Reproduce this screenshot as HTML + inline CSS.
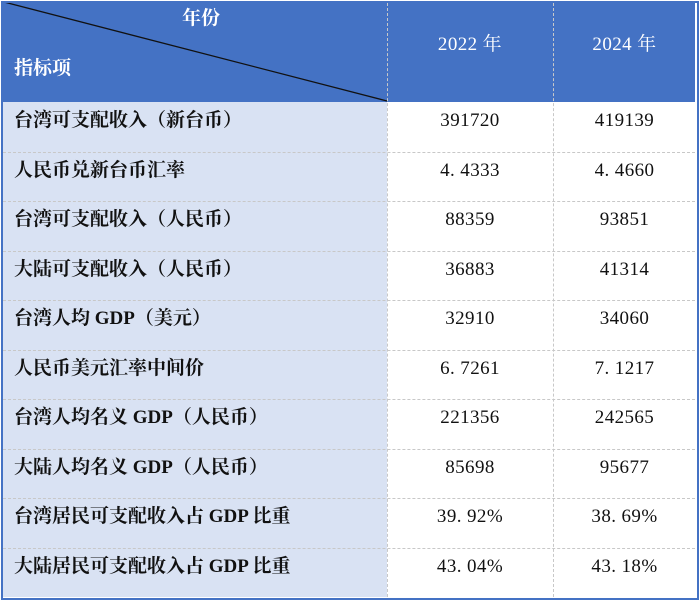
<!DOCTYPE html>
<html><head><meta charset="utf-8"><style>
body{margin:0;width:700px;height:600px;background:#fff;position:relative;overflow:hidden;font-family:"Liberation Serif","Noto Serif CJK SC",serif}
.frame{position:absolute;left:1px;top:1px;width:694px;height:595px;border:2px solid #4472c4;box-sizing:content-box}
.hdr{position:absolute;left:3px;top:3px;width:692px;height:99px;background:#4472c4}
.lab{position:absolute;left:3px;top:102px;width:384px;height:495px;background:#d9e2f3}
.hl{position:absolute;left:3px;width:692px;height:0;border-top:1px dashed #c8c8c8}
.vl{position:absolute;top:3px;height:594px;width:0;border-left:1px dashed #c8c8c8}
.t{position:absolute;font-family:"Liberation Serif","Noto Serif CJK SC",serif;font-size:19px;font-weight:bold;color:#111;white-space:nowrap;line-height:22px}
.n{position:absolute;font-family:"Liberation Serif","Noto Serif CJK SC",serif;font-size:19px;letter-spacing:0.4px;color:#111;line-height:22px;text-align:center;white-space:nowrap}
.w{color:#fff}
</style></head><body>
<div class="hdr"></div><div class="lab"></div>
<svg style="position:absolute;left:0;top:0" width="700" height="110"><line x1="4" y1="2" x2="387" y2="101" stroke="#111" stroke-width="1.3"/></svg>
<div class="vl" style="left:387px"></div><div class="vl" style="left:553px"></div>
<div class="t w" style="left:182px;top:8px">年份</div>
<div class="t w" style="left:14px;top:58px">指标项</div>
<div class="n w" style="left:387px;width:166px;top:34px">2022 年</div>
<div class="n w" style="left:553px;width:143px;top:34px">2024 年</div>
<div class="frame"></div>
<div id="rows"></div>
<script>
var d=[["台湾可支配收入（新台币）","391720","419139"],["人民币兑新台币汇率","4.4333","4.4660"],["台湾可支配收入（人民币）","88359","93851"],["大陆可支配收入（人民币）","36883","41314"],["台湾人均 GDP（美元）","32910","34060"],["人民币美元汇率中间价","6.7261","7.1217"],["台湾人均名义 GDP（人民币）","221356","242565"],["大陆人均名义 GDP（人民币）","85698","95677"],["台湾居民可支配收入占 GDP 比重","39.92%","38.69%"],["大陆居民可支配收入占 GDP 比重","43.04%","43.18%"]];
var h="";
d.forEach(function(r,i){var y=102+i*49.5;
if(i>0)h+='<div class="hl" style="top:'+y+'px"></div>';
h+='<div class="t" style="left:14px;top:'+(y+8)+'px">'+r[0]+'</div>';
h+='<div class="n" style="left:387px;width:166px;top:'+(y+8)+'px">'+r[1].replace(".",". ")+'</div>';
h+='<div class="n" style="left:553px;width:143px;top:'+(y+8)+'px">'+r[2].replace(".",". ")+'</div>';});
document.getElementById("rows").innerHTML=h;
</script>
</body></html>
